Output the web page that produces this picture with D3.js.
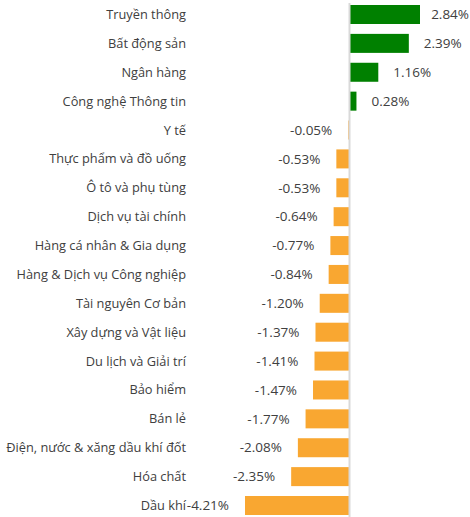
<!DOCTYPE html>
<html>
<head>
<meta charset="utf-8">
<script src="https://cdn.jsdelivr.net/npm/d3@7"></script>
<style>
  body { margin: 0; background: #fff; }
  text { font-family: "Open Sans", "Noto Sans", sans-serif; }
</style>
</head>
<body>
<script>
// sectors, top to bottom
const sectors = [
  "Truyền thông", "Bất động sản", "Ngân hàng", "Công nghệ Thông tin", "Y tế",
  "Thực phẩm và đồ uống", "Ô tô và phụ tùng", "Dịch vụ tài chính",
  "Hàng cá nhân & Gia dụng", "Hàng & Dịch vụ Công nghiệp", "Tài nguyên Cơ bản",
  "Xây dựng và Vật liệu", "Du lịch và Giải trí", "Bảo hiểm", "Bán lẻ",
  "Điện, nước & xăng dầu khí đốt", "Hóa chất", "Dầu khí"
];
const changes = [
  2.84, 2.39, 1.16, 0.28, -0.05,
  -0.53, -0.53, -0.64,
  -0.77, -0.84, -1.20,
  -1.37, -1.41, -1.47, -1.77,
  -2.08, -2.35, -4.21
];

const data = sectors.map((s, i) => ({ name: s, value: changes[i] }));

const width = 470, height = 517;

const svg = d3.select("body").append("svg")
    .attr("width", width)
    .attr("height", height);

const x = d3.scaleLinear()
    .domain([-4.21, 2.84])
    .range([245, 420]);

const y = d3.scaleBand()
    .domain(sectors)
    .range([0, 520])
    .paddingInner(0.342)
    .paddingOuter(0.173);

// bars
svg.selectAll(".bar")
  .data(data)
  .join("rect")
    .attr("class", "bar")
    .attr("x", d => x(Math.min(0, d.value)))
    .attr("y", d => y(d.name))
    .attr("width", d => Math.abs(x(d.value) - x(0)))
    .attr("height", y.bandwidth())
    .style("fill", d => d.value >= 0 ? "#008000" : "#F9A731");

// zero line
svg.append("line")
    .attr("x1", x(0)).attr("x2", x(0))
    .attr("y1", 3).attr("y2", height)
    .attr("stroke", "#d9d9d9")
    .attr("stroke-width", 2);

// category labels
svg.selectAll(".cat")
  .data(data)
  .join("text")
    .attr("class", "cat")
    .attr("x", 186)
    .attr("y", d => y(d.name) + y.bandwidth() / 2)
    .attr("dy", "0.35em")
    .attr("text-anchor", "end")
    .style("font-size", "12.8px")
    .style("fill", "#404040")
    .text(d => d.name);

// value labels
svg.selectAll(".val")
  .data(data)
  .join("text")
    .attr("class", "val")
    .attr("x", d => d.value >= 0 ? x(d.value) + 15 : x(d.value) - 16)
    .attr("y", d => y(d.name) + y.bandwidth() / 2)
    .attr("dy", "0.35em")
    .attr("text-anchor", d => d.value >= 0 ? "start" : "end")
    .style("font-size", "13.5px")
    .style("fill", "#404040")
    .text(d => d.value.toFixed(2) + "%")
    // keep labels inside the frame (Excel nudges the top one left)
    .each(function(d) {
      if (d.value < 0) return;
      const w = this.getComputedTextLength();
      const x0 = +this.getAttribute("x");
      if (x0 + w > width - 1) this.setAttribute("x", width - 1 - w);
    });
</script>
</body>
</html>
